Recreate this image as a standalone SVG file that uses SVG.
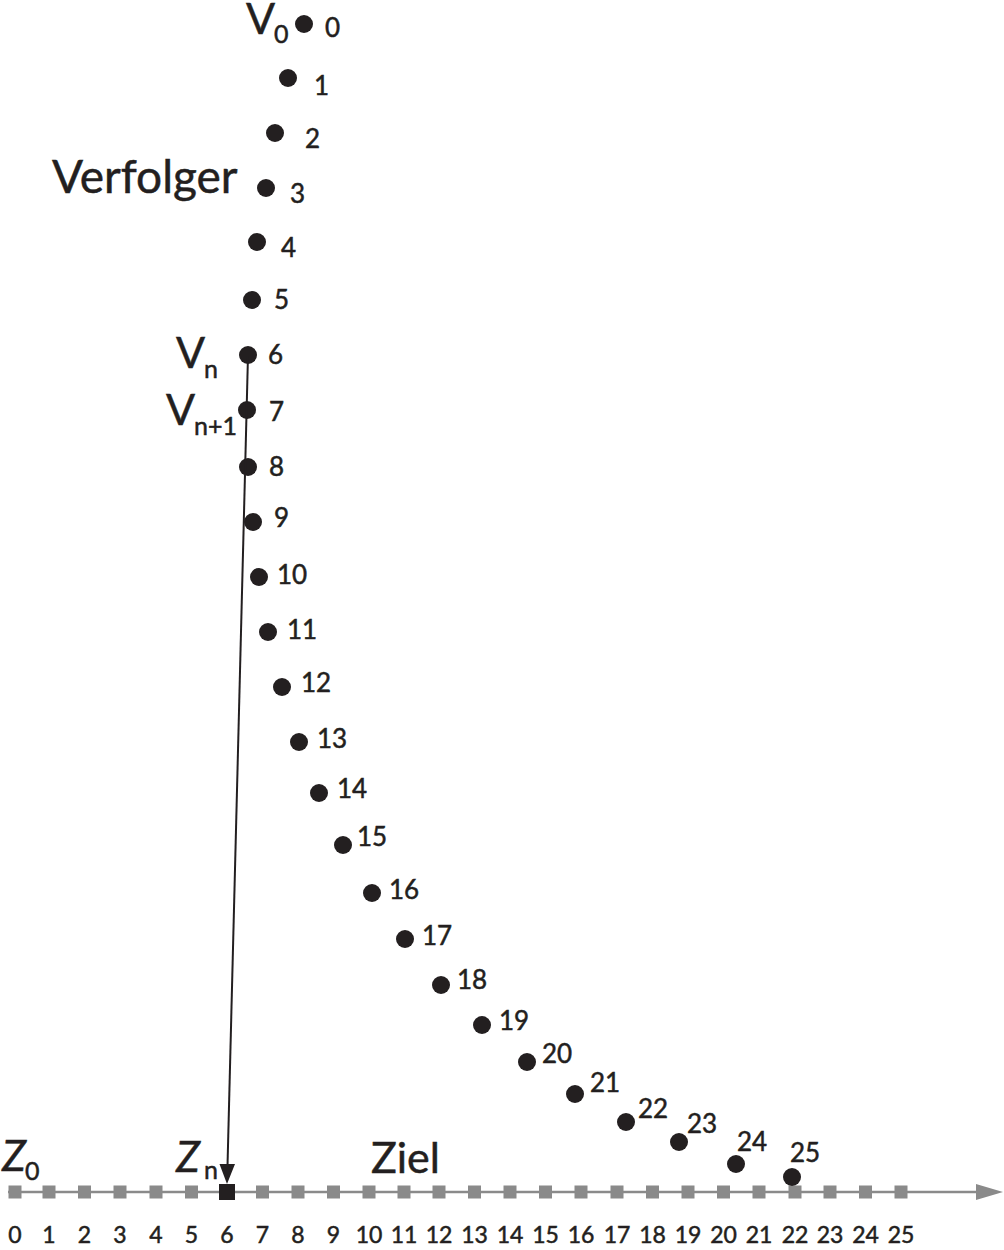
<svg xmlns="http://www.w3.org/2000/svg" width="1004" height="1250" viewBox="0 0 1004 1250">
<style>
text{font-family:Lato,"Open Sans","Liberation Sans",sans-serif;fill:#231f20;stroke:#231f20;stroke-width:0.5}
.dot{fill:#231f20}
.lbl{font-size:26px}
.big{font-size:43px}
.vf{font-size:46px}
.sub{font-size:25px}
.ax{font-size:23px;text-anchor:middle}
.it{font-style:italic}
.sq{fill:#8a8a8a}
.sqa{fill:#231f20}
.axis{stroke:#8a8a8a;stroke-width:2.5;fill:none}
.conn{stroke:#231f20;stroke-width:2;fill:none}
</style>
<rect width="1004" height="1250" fill="#ffffff"/>
<g id="axis">
<line class="axis" x1="8" y1="1192" x2="980" y2="1192"/>
<polygon points="976,1184 1003,1192 976,1200" fill="#8a8a8a"/>
</g>
<g id="ziel">
<g id="Z0"><rect class="sq" x="8.5" y="1185.5" width="13" height="13"/><text class="ax" x="15" y="1243">0</text></g>
<g id="Z1"><rect class="sq" x="42.5" y="1185.5" width="13" height="13"/><text class="ax" x="49" y="1243">1</text></g>
<g id="Z2"><rect class="sq" x="78" y="1185.5" width="13" height="13"/><text class="ax" x="84.5" y="1243">2</text></g>
<g id="Z3"><rect class="sq" x="113.5" y="1185.5" width="13" height="13"/><text class="ax" x="120" y="1243">3</text></g>
<g id="Z4"><rect class="sq" x="149.5" y="1185.5" width="13" height="13"/><text class="ax" x="156" y="1243">4</text></g>
<g id="Z5"><rect class="sq" x="185" y="1185.5" width="13" height="13"/><text class="ax" x="191.5" y="1243">5</text></g>
<g id="Z6"><rect class="sqa" x="219" y="1184" width="16" height="16"/><text class="ax" x="227" y="1243">6</text></g>
<g id="Z7"><rect class="sq" x="256" y="1185.5" width="13" height="13"/><text class="ax" x="262.5" y="1243">7</text></g>
<g id="Z8"><rect class="sq" x="291.5" y="1185.5" width="13" height="13"/><text class="ax" x="298" y="1243">8</text></g>
<g id="Z9"><rect class="sq" x="327" y="1185.5" width="13" height="13"/><text class="ax" x="333.5" y="1243">9</text></g>
<g id="Z10"><rect class="sq" x="362.5" y="1185.5" width="13" height="13"/><text class="ax" x="369" y="1243">10</text></g>
<g id="Z11"><rect class="sq" x="397.5" y="1185.5" width="13" height="13"/><text class="ax" x="404" y="1243">11</text></g>
<g id="Z12"><rect class="sq" x="432.5" y="1185.5" width="13" height="13"/><text class="ax" x="439" y="1243">12</text></g>
<g id="Z13"><rect class="sq" x="468" y="1185.5" width="13" height="13"/><text class="ax" x="474.5" y="1243">13</text></g>
<g id="Z14"><rect class="sq" x="503.5" y="1185.5" width="13" height="13"/><text class="ax" x="510" y="1243">14</text></g>
<g id="Z15"><rect class="sq" x="539" y="1185.5" width="13" height="13"/><text class="ax" x="545.5" y="1243">15</text></g>
<g id="Z16"><rect class="sq" x="574.5" y="1185.5" width="13" height="13"/><text class="ax" x="581" y="1243">16</text></g>
<g id="Z17"><rect class="sq" x="610.5" y="1185.5" width="13" height="13"/><text class="ax" x="617" y="1243">17</text></g>
<g id="Z18"><rect class="sq" x="646" y="1185.5" width="13" height="13"/><text class="ax" x="652.5" y="1243">18</text></g>
<g id="Z19"><rect class="sq" x="681.5" y="1185.5" width="13" height="13"/><text class="ax" x="688" y="1243">19</text></g>
<g id="Z20"><rect class="sq" x="717" y="1185.5" width="13" height="13"/><text class="ax" x="723.5" y="1243">20</text></g>
<g id="Z21"><rect class="sq" x="752.5" y="1185.5" width="13" height="13"/><text class="ax" x="759" y="1243">21</text></g>
<g id="Z22"><rect class="sq" x="788.5" y="1185.5" width="13" height="13"/><text class="ax" x="795" y="1243">22</text></g>
<g id="Z23"><rect class="sq" x="823.5" y="1185.5" width="13" height="13"/><text class="ax" x="830" y="1243">23</text></g>
<g id="Z24"><rect class="sq" x="859" y="1185.5" width="13" height="13"/><text class="ax" x="865.5" y="1243">24</text></g>
<g id="Z25"><rect class="sq" x="894.5" y="1185.5" width="13" height="13"/><text class="ax" x="901" y="1243">25</text></g>
</g>
<g id="verfolger">
<g id="V0"><circle class="dot" cx="304" cy="24" r="9"/><text class="lbl" x="325" y="37">0</text></g>
<g id="V1"><circle class="dot" cx="288" cy="78" r="9"/><text class="lbl" x="314" y="95">1</text></g>
<g id="V2"><circle class="dot" cx="275" cy="133" r="9"/><text class="lbl" x="305" y="148">2</text></g>
<g id="V3"><circle class="dot" cx="266" cy="188" r="9"/><text class="lbl" x="290" y="203">3</text></g>
<g id="V4"><circle class="dot" cx="257" cy="242" r="9"/><text class="lbl" x="281" y="257">4</text></g>
<g id="V5"><circle class="dot" cx="252" cy="300" r="9"/><text class="lbl" x="274" y="309">5</text></g>
<g id="V6"><circle class="dot" cx="248" cy="355" r="9"/><text class="lbl" x="268" y="364">6</text></g>
<g id="V7"><circle class="dot" cx="247" cy="410" r="9"/><text class="lbl" x="269" y="421">7</text></g>
<g id="V8"><circle class="dot" cx="248" cy="467" r="9"/><text class="lbl" x="269" y="476">8</text></g>
<g id="V9"><circle class="dot" cx="253" cy="522" r="9"/><text class="lbl" x="274" y="527">9</text></g>
<g id="V10"><circle class="dot" cx="259" cy="577" r="9"/><text class="lbl" x="277" y="584">10</text></g>
<g id="V11"><circle class="dot" cx="268" cy="632" r="9"/><text class="lbl" x="287" y="639">11</text></g>
<g id="V12"><circle class="dot" cx="282" cy="687" r="9"/><text class="lbl" x="301" y="692">12</text></g>
<g id="V13"><circle class="dot" cx="299" cy="742" r="9"/><text class="lbl" x="317" y="748">13</text></g>
<g id="V14"><circle class="dot" cx="319" cy="793" r="9"/><text class="lbl" x="337" y="798">14</text></g>
<g id="V15"><circle class="dot" cx="343" cy="845" r="9"/><text class="lbl" x="357" y="846">15</text></g>
<g id="V16"><circle class="dot" cx="372" cy="893" r="9"/><text class="lbl" x="389" y="899">16</text></g>
<g id="V17"><circle class="dot" cx="405" cy="939" r="9"/><text class="lbl" x="422" y="945">17</text></g>
<g id="V18"><circle class="dot" cx="441" cy="985" r="9"/><text class="lbl" x="457" y="989">18</text></g>
<g id="V19"><circle class="dot" cx="482" cy="1025" r="9"/><text class="lbl" x="499" y="1030">19</text></g>
<g id="V20"><circle class="dot" cx="527" cy="1062" r="9"/><text class="lbl" x="542" y="1063">20</text></g>
<g id="V21"><circle class="dot" cx="575" cy="1094" r="9"/><text class="lbl" x="590" y="1092">21</text></g>
<g id="V22"><circle class="dot" cx="626" cy="1122" r="9"/><text class="lbl" x="638" y="1118">22</text></g>
<g id="V23"><circle class="dot" cx="679" cy="1142" r="9"/><text class="lbl" x="687" y="1133">23</text></g>
<g id="V24"><circle class="dot" cx="736" cy="1164" r="9"/><text class="lbl" x="737" y="1151">24</text></g>
<g id="V25"><circle class="dot" cx="792" cy="1177" r="9"/><text class="lbl" x="790" y="1162">25</text></g>
</g>
<g id="labels">
<text class="big" x="246" y="34">V</text><text class="sub" x="274" y="43">0</text>
<text class="vf" x="52" y="193">Verfolger</text>
<text class="big" x="176" y="368">V</text><text class="sub" x="204" y="378">n</text>
<text class="big" x="166" y="425">V</text><text class="sub" x="194" y="435">n+1</text>
<text class="big it" x="2" y="1171">Z</text><text class="sub" x="25" y="1180">0</text>
<text class="big it" x="176" y="1172">Z</text><text class="sub" x="204" y="1179">n</text>
<text class="big" x="371" y="1173">Ziel</text>
</g>
<g id="connectors">
<line class="conn" x1="248" y1="355" x2="227.5" y2="1166"/>
<polygon points="219.5,1164 235,1164 227,1184" fill="#231f20"/>
</g>
</svg>
